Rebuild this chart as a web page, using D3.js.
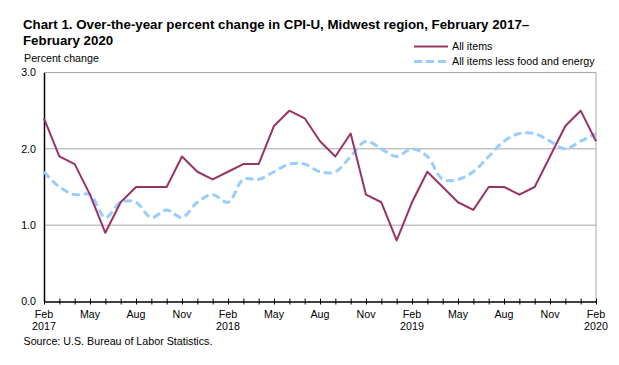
<!DOCTYPE html>
<html>
<head>
<meta charset="utf-8">
<script src="https://cdn.jsdelivr.net/npm/d3@7"></script>
<style>
  html, body { margin: 0; padding: 0; background: #fff; }
  svg { display: block; font-family: "Liberation Sans", Arial, sans-serif; }
</style>
</head>
<body>
<svg id="chart" width="619" height="365"></svg>
<script>
const months = ["Feb","Mar","Apr","May","Jun","Jul","Aug","Sep","Oct","Nov","Dec","Jan",
  "Feb","Mar","Apr","May","Jun","Jul","Aug","Sep","Oct","Nov","Dec","Jan",
  "Feb","Mar","Apr","May","Jun","Jul","Aug","Sep","Oct","Nov","Dec","Jan","Feb"];
const years = ["2017","2017","2017","2017","2017","2017","2017","2017","2017","2017","2017","2018",
  "2018","2018","2018","2018","2018","2018","2018","2018","2018","2018","2018","2019",
  "2019","2019","2019","2019","2019","2019","2019","2019","2019","2019","2019","2020","2020"];
const allItems = [2.4,1.9,1.8,1.4,0.9,1.3,1.5,1.5,1.5,1.9,1.7,1.6,
  1.7,1.8,1.8,2.3,2.5,2.4,2.1,1.9,2.2,1.4,1.3,0.8,
  1.3,1.7,1.5,1.3,1.2,1.5,1.5,1.4,1.5,1.9,2.3,2.5,2.1];
const coreItems = [1.7,1.5,1.4,1.4,1.1,1.3,1.3,1.1,1.2,1.1,1.3,1.4,
  1.3,1.6,1.6,1.7,1.8,1.8,1.7,1.7,1.9,2.1,2.0,1.9,
  2.0,1.9,1.6,1.6,1.7,1.9,2.1,2.2,2.2,2.1,2.0,2.1,2.2];
const yTicks = [0.0, 1.0, 2.0, 3.0];
const labelMonths = ["Feb","May","Aug","Nov"];
const seriesNames = ["All items", "All items less food and energy"];

(function () {
const svg = d3.select("#chart");
const fs = 10.7;
const pLeft = 44, pRight = 596, pTop = 72.5, pBottom = 301.5;
const x = d3.scaleLinear().domain([0, months.length - 1]).range([pLeft, pRight]);
const y = d3.scaleLinear().domain([0, 3]).range([pBottom, pTop]);

// Title
const title = svg.append("text").attr("font-size", 13.3).attr("font-weight", "bold").attr("fill", "#000");
title.append("tspan").attr("x", 23).attr("y", 29).text("Chart 1. Over-the-year percent change in CPI-U, Midwest region, February 2017\u2013");
title.append("tspan").attr("x", 23).attr("y", 45).text("February 2020");

svg.append("text").attr("x", 24).attr("y", 62).attr("font-size", fs).text("Percent change");

// Gridlines
svg.append("g").selectAll("line").data(yTicks.filter(d => d > 0)).join("line")
  .attr("x1", pLeft).attr("x2", pRight)
  .attr("y1", d => y(d)).attr("y2", d => y(d))
  .attr("stroke", "#a6a6a6").attr("stroke-width", 1);
// Right border
svg.append("line").attr("x1", pRight).attr("x2", pRight).attr("y1", pTop).attr("y2", pBottom)
  .attr("stroke", "#a6a6a6").attr("stroke-width", 1);

// Y axis
const yAxis = d3.axisLeft(y).tickValues(yTicks).tickFormat(d3.format(".1f")).tickSize(0).tickPadding(8);
const gy = svg.append("g").attr("transform", `translate(${pLeft},0)`).call(yAxis);
gy.select(".domain").attr("stroke", "#000").attr("stroke-width", 1.5);
gy.selectAll("text").attr("font-size", fs).attr("fill", "#000").attr("font-family", "Liberation Sans, Arial, sans-serif");

// X axis
const xAxis = d3.axisBottom(x).tickValues(d3.range(months.length)).tickSize(0).tickFormat("");
const gx = svg.append("g").attr("transform", `translate(0,${pBottom})`).call(xAxis);
gx.select(".domain").attr("stroke", "#000").attr("stroke-width", 1.5);
gx.selectAll(".tick").append("line").attr("y1", -3).attr("y2", 3).attr("stroke", "#000").attr("stroke-width", 1);

// X labels
const labeled = d3.range(months.length).filter(i => labelMonths.includes(months[i]));
svg.append("g").selectAll("text").data(labeled).join("text")
  .attr("x", i => x(i)).attr("y", 318).attr("text-anchor", "middle").attr("font-size", fs)
  .text(i => months[i]);
svg.append("g").selectAll("text").data(labeled.filter(i => months[i] === "Feb")).join("text")
  .attr("x", i => x(i)).attr("y", 329.5).attr("text-anchor", "middle").attr("font-size", fs)
  .text(i => years[i]);

// Lines
const coreLine = d3.line().x((d, i) => x(i)).y(d => y(d)).curve(d3.curveCatmullRom.alpha(0.5));
const allLine = d3.line().x((d, i) => x(i)).y(d => y(d));

svg.append("path").datum(coreItems).attr("d", coreLine).attr("fill", "none")
  .attr("stroke", "#99ccff").attr("stroke-width", 3).attr("stroke-dasharray", "8,4");
svg.append("path").datum(allItems).attr("d", allLine).attr("fill", "none")
  .attr("stroke", "#993366").attr("stroke-width", 2).attr("stroke-linejoin", "round");

// Legend
svg.append("line").attr("x1", 414).attr("x2", 448).attr("y1", 46.5).attr("y2", 46.5)
  .attr("stroke", "#993366").attr("stroke-width", 2);
svg.append("text").attr("x", 452).attr("y", 50).attr("font-size", fs).text(seriesNames[0]);
svg.append("line").attr("x1", 414).attr("x2", 448).attr("y1", 61.5).attr("y2", 61.5)
  .attr("stroke", "#99ccff").attr("stroke-width", 3).attr("stroke-dasharray", "8,4");
svg.append("text").attr("x", 452).attr("y", 64.5).attr("font-size", fs).text(seriesNames[1]);

// Source
svg.append("text").attr("x", 23.5).attr("y", 345).attr("font-size", fs).text("Source: U.S. Bureau of Labor Statistics.");
})();
</script>
</body>
</html>
